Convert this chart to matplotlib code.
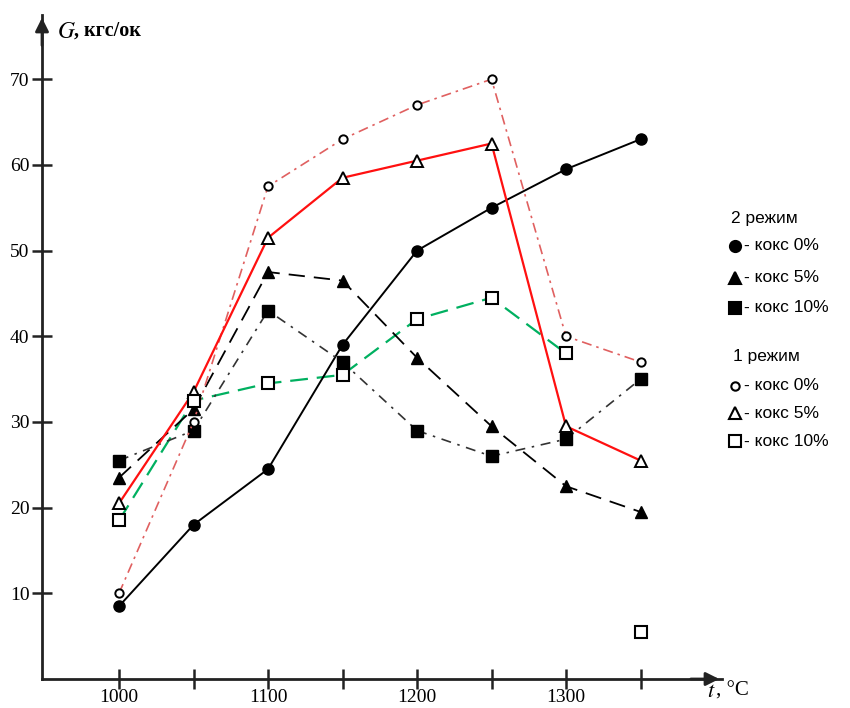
import matplotlib
matplotlib.use("Agg")
import matplotlib.pyplot as plt
from matplotlib.lines import Line2D

t = [1000, 1050, 1100, 1150, 1200, 1250, 1300, 1350]
# 2 режим
m2_k0 = [8.5, 18, 24.5, 39, 50, 55, 59.5, 63]
m2_k5 = [23.5, 31.5, 47.5, 46.5, 37.5, 29.5, 22.5, 19.5]
m2_k10 = [25.5, 29, 43, 37, 29, 26, 28, 35]
# 1 режим
m1_k0 = [10, 30, 57.5, 63, 67, 70, 40, 37]
m1_k5 = [20.5, 33.5, 51.5, 58.5, 60.5, 62.5, 29.5, 25.5]
m1_k10 = [18.5, 32.5, 34.5, 35.5, 42, 44.5, 38, 5.5]

xticks_major = [1000, 1100, 1200, 1300]
xticks_minor = [1050, 1150, 1250, 1350]
yticks = [10, 20, 30, 40, 50, 60, 70]

fig = plt.figure(figsize=(8.5, 7.08), dpi=100)
W, H = 850, 708
ax = fig.add_axes([42 / W, 29 / H, (722 - 42) / W, (679 - 15) / H])
ax.set_xlim(948.3, 1404.7)
ax.set_ylim(0, 77.5)

ms = 8
# 2 режим curves (black)
ax.plot(t, m2_k0, color='black', lw=1.4, ls='-', marker='o', ms=ms, mfc='black', mec='black', zorder=3)
ax.plot(t, m2_k5, color='black', lw=1.3, ls=(0, (9, 5)), marker='^', ms=ms, mfc='black', mec='black', zorder=3)
ax.plot(t, m2_k10, color='#333333', lw=1.2, ls=(0, (6, 4, 1.5, 4)), marker='s', ms=ms, mfc='black', mec='black', zorder=3)
# 1 режим curves
ax.plot(t, m1_k0, color='#e06060', lw=1.2, ls=(0, (6, 3, 1.5, 3)), marker='o', ms=6, mfc='white', mec='black', mew=1.4, zorder=3)
ax.plot(t, m1_k5, color='#ff1010', lw=1.6, ls='-', marker='^', ms=ms, mfc='white', mec='black', mew=1.4, zorder=3)
ax.plot(t[:7], m1_k10[:7], color='#00b060', lw=1.6, ls=(0, (8, 4)), zorder=2)
ax.plot(t, m1_k10, ls='none', marker='s', ms=ms + 0.5, mfc='white', mec='black', mew=1.5, zorder=3)

for s in ['top', 'right']:
    ax.spines[s].set_visible(False)
for s in ['left', 'bottom']:
    ax.spines[s].set_linewidth(2.0)
    ax.spines[s].set_color('#222222')

ax.set_xticks(xticks_major + xticks_minor)
ax.set_xticklabels([str(v) for v in xticks_major] + [''] * len(xticks_minor))
ax.set_yticks(yticks)
ax.set_yticklabels([str(v) for v in yticks])
ax.tick_params(direction='inout', length=14, width=1.8, colors='#222222',
               labelsize=14, pad=2)
ax.tick_params(axis='x', pad=0)
for lab in ax.get_xticklabels() + ax.get_yticklabels():
    lab.set_fontfamily('Liberation Serif')
    lab.set_color('black')

# axis arrows
ax.annotate('', xy=(1.0, 0), xycoords='axes fraction', xytext=(0.95, 0),
            arrowprops=dict(arrowstyle='-|>', color='#222222', lw=2.0, mutation_scale=20))
ax.annotate('', xy=(0, 1.0), xycoords='axes fraction', xytext=(0, 0.95),
            arrowprops=dict(arrowstyle='-|>', color='#222222', lw=2.0, mutation_scale=20))

fig.text(57 / W, 1 - 31 / H, r'$G$', fontsize=17, va='center', ha='left',
         math_fontfamily='stix')
fig.text(74 / W, 1 - 31 / H, ', кгс/ок', fontsize=14.5, family='Liberation Serif', va='center', ha='left',
         weight='bold')
fig.text(707 / W, 1 - 691 / H, r'$t$', fontsize=16, va='center', ha='left', math_fontfamily='stix')
fig.text(716 / W, 1 - 691 / H, ', °C', fontsize=15, family='Liberation Serif', va='center', ha='left')

# legend (manual)
lx_m = 735
lx_t = 744
fs = 12.5
def ltext(y, s, x=lx_t):
    fig.text(x / W, 1 - y / H, s, fontsize=fs, family='Liberation Sans', va='center', ha='left')

def lmark(y, marker, filled, size=8):
    fig.add_artist(Line2D([lx_m / W], [1 - y / H], transform=fig.transFigure, ls='none',
                          marker=marker, ms=size, mfc='black' if filled else 'white',
                          mec='black', mew=1.5))

ltext(218, '2 режим', x=731)
lmark(246, 'o', True); ltext(246, '- кокс 0%')
lmark(278, '^', True); ltext(278, '- кокс 5%')
lmark(308, 's', True); ltext(308, '- кокс 10%')
ltext(356, '1 режим', x=733)
lmark(386, 'o', False, 6); ltext(386, '- кокс 0%')
lmark(413, '^', False); ltext(413, '- кокс 5%')
lmark(441, 's', False); ltext(441, '- кокс 10%')

fig.savefig('out.png', dpi=100)
